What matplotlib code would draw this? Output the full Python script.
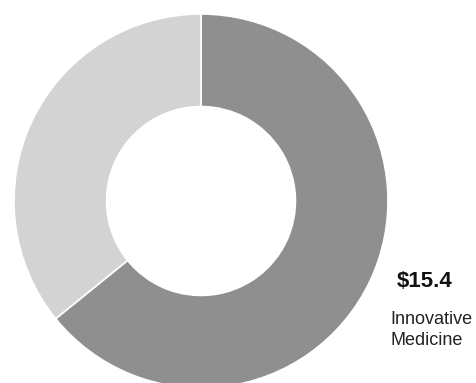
import matplotlib
matplotlib.use("Agg")
import matplotlib.pyplot as plt

segments = ["Innovative Medicine", "Other"]
values = [15.4, 8.6]
colors = ["#8f8f8f", "#d3d3d3"]
value_label = "$15.4"
name_lines = ["Innovative", "Medicine"]

W, H = 477, 383
fig = plt.figure(figsize=(W / 100, H / 100), dpi=100)
fig.patch.set_facecolor("white")

# donut: centre ~ (201, 201) px from top-left, outer radius ~187 px
r = 187
cx, cy = 201, 201
ax = fig.add_axes([(cx - r) / W, (H - cy - r) / H, 2 * r / W, 2 * r / H])
ax.pie(values, colors=colors, startangle=90, counterclock=False, radius=1,
       wedgeprops=dict(width=0.495, edgecolor="white", linewidth=1.2))
ax.set_xlim(-1, 1)
ax.set_ylim(-1, 1)
ax.set_aspect("equal")
ax.axis("off")

fig.text(397 / W, 1 - 287 / H, value_label, fontsize=16, fontweight="bold",
         family=["Liberation Sans", "DejaVu Sans"], va="baseline", ha="left", color="#111111")
for line, base in zip(name_lines, [324, 345]):
    fig.text(390 / W, 1 - base / H, line, fontsize=13, family=["Liberation Sans", "DejaVu Sans"],
             va="baseline", ha="left", color="#222222")

fig.savefig("out.png", dpi=100)
